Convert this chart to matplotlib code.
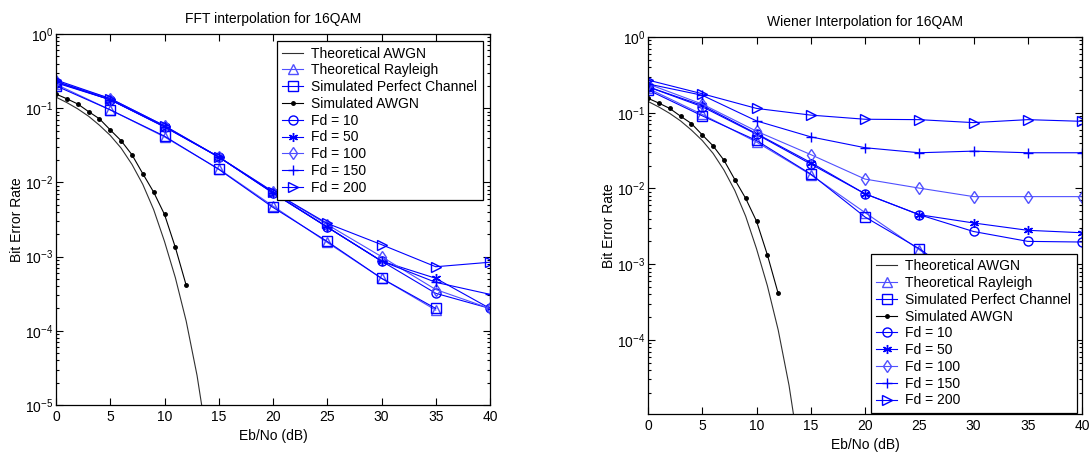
import matplotlib
matplotlib.use('Agg')
import matplotlib.pyplot as plt
from matplotlib.ticker import NullLocator, LogLocator

plt.rcParams['font.family'] = ['Liberation Sans', 'DejaVu Sans']
plt.rcParams['font.size'] = 10
plt.rcParams['mathtext.fontset'] = 'custom'
plt.rcParams['mathtext.rm'] = 'Liberation Sans'
plt.rcParams['mathtext.default'] = 'regular'

# --- data ---
ebno_theory = [0, 1, 2, 3, 4, 5, 6, 7, 8, 9, 10, 11, 12, 13, 13.5]
ber_awgn_theory = [0.141, 0.119, 0.098, 0.078, 0.059, 0.043, 0.029, 0.0175,
                   0.0094, 0.0043, 0.0016, 0.00052, 0.000135, 0.000025, 0.0000085]

ebno_sim_awgn = [0, 1, 2, 3, 4, 5, 6, 7, 8, 9, 10, 11, 12]
ber_awgn_sim = [0.155, 0.134, 0.114, 0.090, 0.072, 0.051, 0.0365, 0.0236,
                0.0131, 0.0074, 0.0037, 0.00133, 0.00041]

ebno = [0, 5, 10, 15, 20, 25, 30, 35, 40]
ebno_perf = [0, 5, 10, 15, 20, 25, 30, 35]

ray_theory = [0.21, 0.095, 0.041, 0.0152, 0.0048, 0.00155, 0.00051, 0.00019]

# FFT interpolation
fft_perfect = [0.20, 0.095, 0.042, 0.015, 0.0046, 0.0016, 0.00051, 0.0002]
fft_fd10 = [0.22, 0.13, 0.056, 0.022, 0.0072, 0.0025, 0.00087, 0.00032, 0.0002]
fft_fd50 = [0.225, 0.13, 0.057, 0.022, 0.0073, 0.0025, 0.00087, 0.00051, 0.0002]
fft_fd100 = [0.23, 0.135, 0.058, 0.022, 0.0075, 0.0027, 0.001, 0.00036, 0.0002]
fft_fd150 = [0.23, 0.13, 0.056, 0.022, 0.0072, 0.0025, 0.00087, 0.00045, 0.00031]
fft_fd200 = [0.24, 0.135, 0.058, 0.022, 0.0075, 0.0028, 0.00145, 0.00073, 0.00084]

# Wiener interpolation
wie_perfect = [0.20, 0.091, 0.043, 0.0155, 0.0042, 0.0016, 0.0005, 0.0002]
wie_fd10 = [0.22, 0.12, 0.052, 0.021, 0.0085, 0.0045, 0.0027, 0.002, 0.00196]
wie_fd50 = [0.22, 0.125, 0.053, 0.022, 0.0085, 0.0045, 0.0035, 0.0028, 0.0026]
wie_fd100 = [0.24, 0.13, 0.057, 0.028, 0.0133, 0.0101, 0.0078, 0.0078, 0.0078]
wie_fd150 = [0.24, 0.17, 0.078, 0.048, 0.0345, 0.0296, 0.0311, 0.0296, 0.0296]
wie_fd200 = [0.27, 0.178, 0.114, 0.093, 0.082, 0.081, 0.074, 0.081, 0.077]

labels = ['Theoretical AWGN', 'Theoretical Rayleigh', 'Simulated Perfect Channel',
          'Simulated AWGN', 'Fd = 10', 'Fd = 50', 'Fd = 100', 'Fd = 150', 'Fd = 200']

BLUE = '#0000ff'
LBLUE = '#5050ff'
asterisk = (6, 2, 0)


def draw(ax, perfect, fd10, fd50, fd100, fd150, fd200, title):
    mk = dict(markersize=6.5, markerfacecolor='none', linewidth=0.8)
    ax.plot(ebno_theory, ber_awgn_theory, '-', color='#303030', linewidth=0.8)
    ax.plot(ebno_perf, ray_theory, '-', marker='^', color=LBLUE, **mk)
    ax.plot(ebno_perf, perfect, '-', marker='s', color=BLUE, **mk)
    ax.plot(ebno_sim_awgn, ber_awgn_sim, '-', marker='.', color='black',
            markersize=5, linewidth=0.8)
    ax.plot(ebno, fd10, '-', marker='o', color=BLUE, **mk)
    ax.plot(ebno, fd50, '-', marker=asterisk, color=BLUE, **mk)
    ax.plot(ebno, fd100, '-', marker='d', color=LBLUE, **mk)
    ax.plot(ebno, fd150, '-', marker='+', color=BLUE, **mk)
    ax.plot(ebno, fd200, '-', marker='>', color=BLUE, **mk)

    ax.set_yscale('log')
    ax.set_xlim(0, 40)
    ax.set_xticks(range(0, 41, 5))
    ax.xaxis.set_minor_locator(NullLocator())
    ax.yaxis.set_major_locator(LogLocator(base=10, numticks=10))
    ax.yaxis.set_minor_locator(LogLocator(base=10, subs=range(2, 10), numticks=100))
    ax.tick_params(which='both', direction='in', top=True, right=True, labelsize=10)
    ax.tick_params(which='major', length=5, width=0.8)
    ax.tick_params(which='minor', length=2.5, width=0.8)
    ax.tick_params(axis='y', which='major', pad=2)
    for s in ax.spines.values():
        s.set_linewidth(0.9)
    ax.set_xlabel('Eb/No (dB)', labelpad=4)
    ax.set_ylabel('Bit Error Rate', labelpad=1)
    ax.set_title(title, fontsize=10, pad=8)


fig = plt.figure(figsize=(10.89, 4.54), dpi=100)
ax1 = fig.add_axes([56 / 1089, 1 - 405 / 454, 434 / 1089, 371 / 454])
ax2 = fig.add_axes([648 / 1089, 1 - 414 / 454, 434 / 1089, 377 / 454])

draw(ax1, fft_perfect, fft_fd10, fft_fd50, fft_fd100, fft_fd150, fft_fd200,
     'FFT interpolation for 16QAM')
ax1.set_ylim(1e-5, 1)
draw(ax2, wie_perfect, wie_fd10, wie_fd50, wie_fd100, wie_fd150, wie_fd200,
     'Wiener Interpolation for 16QAM')
ax2.set_ylim(1.05e-5, 1)

leg_kw = dict(frameon=True, fancybox=False, framealpha=1, edgecolor='black',
              fontsize=10, handlelength=1.5, handletextpad=0.6, labelspacing=0.2,
              borderpad=0.4, borderaxespad=0, bbox_transform=fig.transFigure)
l1 = ax1.legend(ax1.get_lines(), labels, loc='upper right',
                bbox_to_anchor=(483 / 1089, 1 - 41 / 454), **leg_kw)
l2 = ax2.legend(ax2.get_lines(), labels, loc='lower right',
                bbox_to_anchor=(1077 / 1089, 1 - 413 / 454), **leg_kw)
for l in (l1, l2):
    l.get_frame().set_linewidth(0.9)
    l.set_zorder(10)

fig.savefig('out.png', dpi=100, facecolor='white')
